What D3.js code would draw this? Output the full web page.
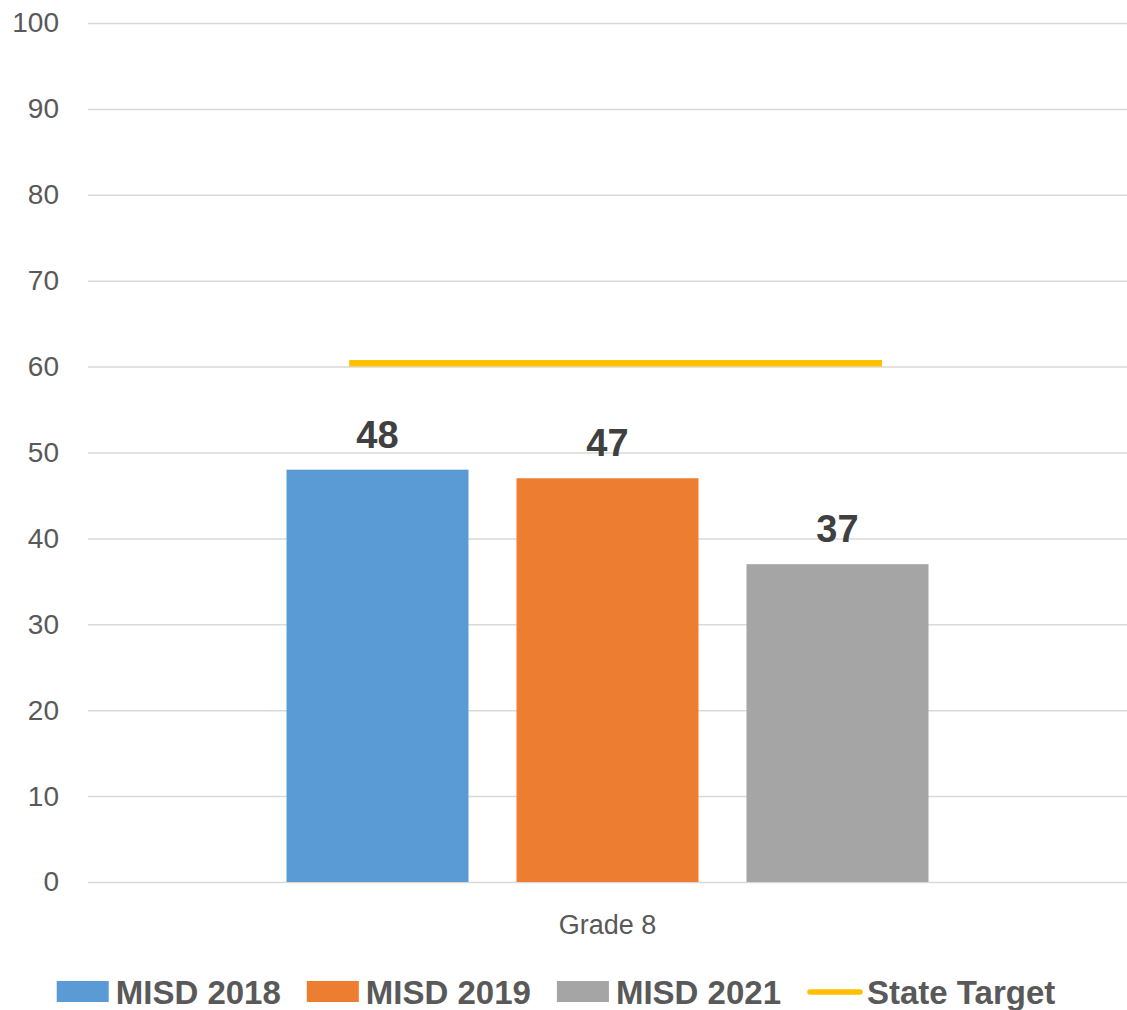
<!DOCTYPE html>
<html>
<head>
<meta charset="utf-8">
<script src="https://cdn.jsdelivr.net/npm/d3@7"></script>
<style>
  html, body { margin: 0; padding: 0; background: #fff; }
  svg text { font-family: "Liberation Sans", Arial, sans-serif; }
</style>
</head>
<body>
<svg id="chart" width="1127" height="1010"></svg>
<script>
// data
var categories = ["Grade 8"];
var seriesNames = ["MISD 2018", "MISD 2019", "MISD 2021"];
var seriesValues = [[48], [47], [37]];   // one value per category
var targetName = "State Target";
var targetValues = [60.4];
var yTicks = [0, 10, 20, 30, 40, 50, 60, 70, 80, 90, 100];

var colors = ["#5b9bd5", "#ed7d31", "#a5a5a5"];
var targetColor = "#ffc000";

var margin = {left: 88, right: 0, top: 23, bottom: 128};
var W = 1127, H = 1010;
var plotW = W - margin.left - margin.right;
var plotH = H - margin.top - margin.bottom;

var svg = d3.select("#chart");
var g = svg.append("g").attr("transform", "translate(" + margin.left + "," + margin.top + ")");

var y = d3.scaleLinear().domain([0, 100]).range([plotH, 0]);
var x0 = d3.scaleBand().domain(categories).range([0, plotW]).padding(0.1694);
var x1 = d3.scaleBand().domain(seriesNames).range([0, x0.bandwidth()]).padding(0.2087);

// gridlines + tick labels
var yAxis = d3.axisLeft(y).tickValues(yTicks).tickSizeInner(-plotW).tickSizeOuter(0).tickPadding(29);
var ax = g.append("g").call(yAxis);
ax.select(".domain").remove();
ax.selectAll(".tick line").attr("stroke", "#d9d9d9").attr("stroke-width", 1.5);
ax.selectAll(".tick text").attr("fill", "#595959").style("font-size", "28px")
  .style("font-family", "'Liberation Sans', Arial, sans-serif");

// bars
var cat = g.selectAll(".cat").data(categories).enter().append("g")
  .attr("transform", function(d) { return "translate(" + x0(d) + ",0)"; });

seriesNames.forEach(function(s, si) {
  cat.append("rect")
    .attr("x", x1(s))
    .attr("y", function(d, ci) { return y(seriesValues[si][ci]); })
    .attr("width", x1.bandwidth())
    .attr("height", function(d, ci) { return plotH - y(seriesValues[si][ci]); })
    .attr("fill", colors[si]);
  cat.append("text")
    .attr("x", x1(s) + x1.bandwidth() / 2)
    .attr("y", function(d, ci) { return y(seriesValues[si][ci]) - 22; })
    .attr("text-anchor", "middle")
    .attr("fill", "#404040")
    .style("font-size", "38px").style("font-weight", "bold")
    .text(function(d, ci) { return seriesValues[si][ci]; });
});

// state target line (spans part of the category band)
var tSpan = [0.15, 0.872];
cat.append("line")
  .attr("x1", x0.bandwidth() * tSpan[0])
  .attr("x2", x0.bandwidth() * tSpan[1])
  .attr("y1", function(d, ci) { return y(targetValues[ci]); })
  .attr("y2", function(d, ci) { return y(targetValues[ci]); })
  .attr("stroke", targetColor).attr("stroke-width", 6.5);

// category label
g.selectAll(".catlabel").data(categories).enter().append("text")
  .attr("x", function(d) { return x0(d) + x0.bandwidth() / 2; })
  .attr("y", plotH + 52)
  .attr("text-anchor", "middle")
  .attr("fill", "#595959")
  .style("font-size", "27px")
  .text(function(d) { return d; });

// legend
var legItems = seriesNames.map(function(s, i) { return {name: s, color: colors[i], type: "rect"}; });
legItems.push({name: targetName, color: targetColor, type: "line"});

var leg = svg.append("g");
var lx = 0;
legItems.forEach(function(it, i) {
  var gi = leg.append("g").attr("transform", "translate(" + lx + ",0)");
  if (it.type === "rect") {
    gi.append("rect").attr("x", 0).attr("y", -11).attr("width", 52).attr("height", 21).attr("fill", it.color);
  } else {
    gi.append("line").attr("x1", 3).attr("x2", 53).attr("y1", 0).attr("y2", 0)
      .attr("stroke", it.color).attr("stroke-width", 5.5).attr("stroke-linecap", "round");
  }
  var t = gi.append("text").attr("x", it.type === "rect" ? 59 : 60).attr("y", 12)
    .attr("fill", "#595959").style("font-size", "33px").style("font-weight", "bold")
    .text(it.name);
  lx += (it.type === "rect" ? 59 : 60) + t.node().getComputedTextLength() + 26;
});
var legW = lx - 26;
leg.attr("transform", "translate(" + (556 - legW / 2) + ",992)");
</script>
</body>
</html>
